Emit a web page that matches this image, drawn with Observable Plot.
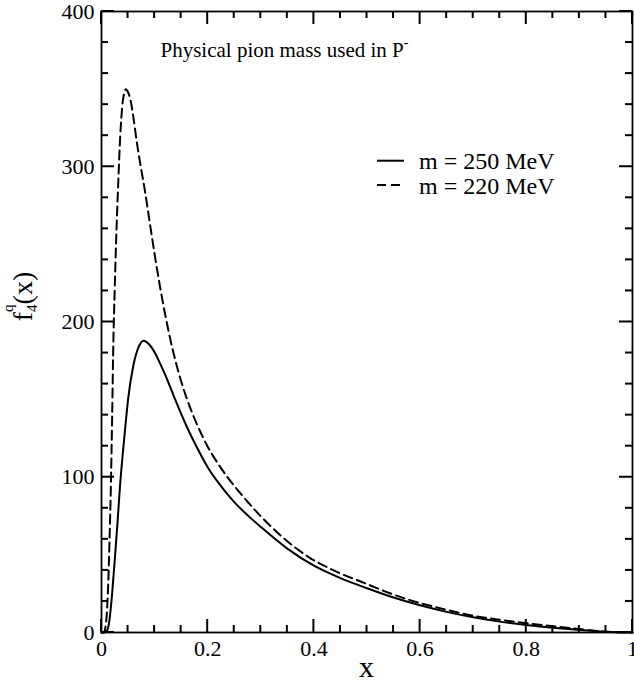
<!DOCTYPE html>
<html><head><meta charset="utf-8">
<script src="https://cdn.jsdelivr.net/npm/d3@7"></script>
<script src="https://cdn.jsdelivr.net/npm/@observablehq/plot@0.6"></script>
<style>html,body{margin:0;padding:0;background:#fff}</style>
</head><body><div id="chart"></div>
<script>
// ---- data ----
const xSolid = [0, 0.005, 0.01, 0.015, 0.02, 0.025, 0.03, 0.035, 0.04, 0.045, 0.05, 0.06, 0.07, 0.079, 0.09, 0.1, 0.11, 0.12, 0.14, 0.16, 0.18, 0.2, 0.22, 0.25, 0.28, 0.3, 0.35, 0.4, 0.45, 0.5, 0.55, 0.6, 0.65, 0.7, 0.75, 0.8, 0.85, 0.9, 0.95, 1.0];
const ySolid = [0, 0, 1, 8, 25, 47, 70, 95, 115, 133, 150, 172, 184, 188, 185.5, 180.5, 173.5, 166, 149, 133, 119, 106.5, 96.5, 84, 74, 68, 54, 43, 35, 28.5, 22.5, 17.5, 13.3, 9.8, 7.0, 4.8, 3.0, 1.6, 0.5, 0];
const xDashed = [0, 0.005, 0.008, 0.01, 0.0125, 0.015, 0.0175, 0.02, 0.0225, 0.025, 0.0275, 0.03, 0.0325, 0.035, 0.0375, 0.04, 0.0425, 0.046, 0.05, 0.054, 0.06, 0.066, 0.074, 0.082, 0.09, 0.101, 0.11, 0.12, 0.13, 0.14, 0.15, 0.16, 0.17, 0.18, 0.19, 0.2, 0.22, 0.24, 0.267, 0.3, 0.33, 0.361, 0.39, 0.424, 0.45, 0.487, 0.53, 0.575, 0.62, 0.65, 0.7, 0.75, 0.8, 0.85, 0.89, 0.92, 0.94, 0.97, 1.0];
const yDashed = [0, 0, 5, 12, 30, 58, 92, 138, 190, 222, 252, 276, 298, 318, 332, 342, 347, 350, 348, 344, 332, 317, 300, 284, 266, 241.6, 223.2, 204.7, 188.2, 174, 161.8, 151.3, 142.1, 133.9, 126.5, 119.7, 108.5, 98.8, 87.5, 74.8, 64.8, 55.7, 48.6, 42.2, 38, 33, 27, 21.5, 17.2, 14.6, 10.8, 8.2, 6, 4.0, 2.6, 1.4, 0.7, 0.15, 0];
const seriesLabels = ["m = 250 MeV", "m = 220 MeV"];
const xMajorTicks = [0, 0.2, 0.4, 0.6, 0.8, 1];
const xMinorTicks = [0.05, 0.1, 0.15, 0.25, 0.3, 0.35, 0.45, 0.5, 0.55, 0.65, 0.7, 0.75, 0.85, 0.9, 0.95];
const yMajorTicks = [0, 100, 200, 300, 400];
const yMinorTicks = [20, 40, 60, 80, 120, 140, 160, 180, 220, 240, 260, 280, 320, 340, 360, 380];
const titleMain = "Physical pion mass used in P";
const titleSup = "-";
const xLabel = "x";

// ---- layout ----
const W = 634, H = 683, mL = 101, mR = 2, mT = 11, mB = 51;
const pw = W - mL - mR, ph = H - mT - mB;
const FONT = "'Liberation Serif', 'Times New Roman', serif";
const majorLen = 13, minorLen = 7;
const xDom = [0, 1], yDom = [0, 400];

const solid = xSolid.map((x, i) => ({x, y: ySolid[i]}));
const dashed = xDashed.map((x, i) => ({x, y: yDashed[i]}));
const dash = "9,5";

const plot = Plot.plot({
  width: W, height: H,
  marginLeft: mL, marginRight: mR, marginTop: mT, marginBottom: mB,
  style: {fontFamily: FONT, color: "#000", background: "#fff", overflow: "visible"},
  x: {domain: xDom},
  y: {domain: yDom},
  marks: [
    Plot.line(solid, {x: "x", y: "y", stroke: "#000", strokeWidth: 2, curve: "monotone-x"}),
    Plot.line(dashed, {x: "x", y: "y", stroke: "#000", strokeWidth: 2, strokeDasharray: dash, curve: "monotone-x"}),
    Plot.axisX({ticks: xMajorTicks, tickSize: 0, tickPadding: 8, fontSize: 22, tickFormat: d => String(d), label: null}),
    Plot.axisY({ticks: yMajorTicks, tickSize: 0, tickPadding: 7, fontSize: 22, tickFormat: d => String(d), label: null}),
    Plot.frame({stroke: "#000", strokeWidth: 1.8})
  ]
});

const svg = d3.select(plot);
const sx = plot.scale("x"), sy = plot.scale("y");
const X0 = sx.apply(xDom[0]), X1 = sx.apply(xDom[1]);
const Y0 = sy.apply(yDom[0]), Y1 = sy.apply(yDom[1]);

// inward ticks on all four sides, positioned through Plot's scales
const tg = svg.append("g").attr("stroke", "#000").attr("stroke-width", 2);
function xt(values, len) {
  values.forEach(v => {
    const px = sx.apply(v);
    tg.append("line").attr("x1", px).attr("x2", px).attr("y1", Y0).attr("y2", Y0 - len);
    tg.append("line").attr("x1", px).attr("x2", px).attr("y1", Y1).attr("y2", Y1 + len);
  });
}
function yt(values, len) {
  values.forEach(v => {
    const py = sy.apply(v);
    tg.append("line").attr("y1", py).attr("y2", py).attr("x1", X0).attr("x2", X0 + len);
    tg.append("line").attr("y1", py).attr("y2", py).attr("x1", X1).attr("x2", X1 - len);
  });
}
xt(xMajorTicks, majorLen); xt(xMinorTicks, minorLen);
yt(yMajorTicks, majorLen); yt(yMinorTicks, minorLen);

// title
const t = svg.append("text").attr("x", 160.5).attr("y", 56.5).attr("text-anchor", "start")
  .attr("font-family", FONT).attr("font-size", 21).attr("fill", "#000");
t.append("tspan").text(titleMain);
t.append("tspan").attr("font-size", 14).attr("dy", -10).text(titleSup);

// legend
const lg = [{y: 160.7, dash: null}, {y: 185, dash: dash}];
lg.forEach((e, i) => {
  const l = svg.append("line").attr("x1", 377).attr("x2", 404).attr("y1", e.y).attr("y2", e.y)
    .attr("stroke", "#000").attr("stroke-width", 2);
  if (e.dash) l.attr("stroke-dasharray", e.dash);
  svg.append("text").attr("x", 419).attr("y", e.y + 8.6).attr("text-anchor", "start")
    .attr("font-family", FONT).attr("font-size", 24).attr("fill", "#000").text(seriesLabels[i]);
});

// x label
svg.append("text").attr("x", mL + pw / 2).attr("y", 677).attr("text-anchor", "middle")
  .attr("font-family", FONT).attr("font-size", 30).attr("fill", "#000").text(xLabel);

// y label f_4^q(x)
const yl = svg.append("text").attr("transform", "translate(32,296.5) rotate(-90)")
  .attr("text-anchor", "middle").attr("font-family", FONT).attr("font-size", 28).attr("fill", "#000");
yl.append("tspan").text("f");
yl.append("tspan").attr("font-size", 15).attr("dy", 5).text("4");
yl.append("tspan").attr("font-size", 15).attr("dx", -7.5).attr("dy", -24).text("q");
yl.append("tspan").attr("dy", 19).text("(x)");

document.getElementById("chart").appendChild(plot);
</script>
</body></html>
